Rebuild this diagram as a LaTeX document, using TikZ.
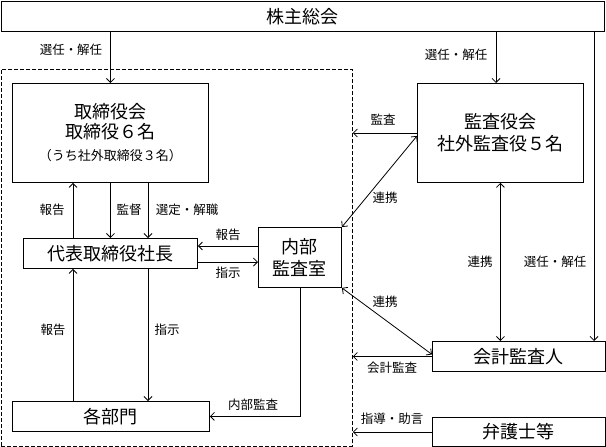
\documentclass[tikz,border=0pt]{standalone}
\usepackage{fontspec}
\setmainfont{Noto Sans CJK JP}
\usetikzlibrary{arrows.meta}
\begin{document}
\begin{tikzpicture}[x=1pt,y=-1pt,
  box/.style={draw,line width=0.9pt,inner sep=0pt,anchor=north west,align=center,font=\fontsize{18}{21}\selectfont},
  grpbox/.style={draw,line width=0.8pt,dash pattern=on 4pt off 2pt,inner sep=0pt,anchor=north west},
  lbl/.style={font=\fontsize{12.5}{14}\selectfont,inner sep=0pt},
  arr/.style={-{Straight Barb[length=4pt,width=8pt]},line width=0.8pt},
  darr/.style={{Straight Barb[length=4pt,width=8pt]}-{Straight Barb[length=4pt,width=8pt]},line width=0.8pt}]
\useasboundingbox (0,0) rectangle (606,447);
% boxes
\node[box,minimum width=603,minimum height=30] (gm) at (1,1) {株主総会};
\node[grpbox,minimum width=351,minimum height=377] (grp) at (1,69) {};
\node[box,minimum width=196,minimum height=99] (tor) at (12,83)
  {取締役会\\[-1pt]取締役６名\\[1pt]{\fontsize{13}{15}\selectfont （うち社外取締役３名）}};
\node[box,minimum width=166,minimum height=99] (kansa) at (417,83) {監査役会\\[1pt]社外監査役５名};
\node[box,minimum width=174,minimum height=30] (pres) at (23,238) {代表取締役社長};
\node[box,minimum width=83,minimum height=60] (naibu) at (258,227) {内部\\[1pt]監査室};
\node[box,minimum width=197,minimum height=30] (bumon) at (12,401) {各部門};
\node[box,minimum width=173,minimum height=30] (kaikei) at (432,341) {会計監査人};
\node[box,minimum width=173,minimum height=29] (bengo) at (432,417) {弁護士等};
% helper coordinates
\coordinate (xa) at (73,0);
\coordinate (xb) at (148,0);
\coordinate (xc) at (496,0);
\coordinate (xd) at (594,0);
\coordinate (ya) at (0,246);
\coordinate (yb) at (0,262);
% connectors
\draw[arr] (tor.north |- gm.south) -- (tor.north);
\draw[arr] (gm.south -| xc) -- (kansa.north -| xc);
\draw[arr] (gm.south -| xd) -- (kaikei.north -| xd);
\draw[arr] (pres.north -| xa) -- (tor.south -| xa);
\draw[arr] (tor.south) -- (pres.north);
\draw[arr] (tor.south -| xb) -- (pres.north -| xb);
\draw[arr] (naibu.west |- ya) -- (pres.east |- ya);
\draw[arr] (pres.east |- yb) -- (naibu.west |- yb);
\draw[arr] (bumon.north -| xa) -- (pres.south -| xa);
\draw[arr] (pres.south -| xb) -- (bumon.north -| xb);
\draw[arr] (naibu.south) |- (bumon.east);
\draw[arr] (kansa.west) -- (kansa.west -| grp.east);
\draw[darr] ([yshift=-3pt]kansa.west) -- (naibu.north east);
\draw[darr] (kansa.south) -- (kaikei.north -| kansa.south);
\draw[darr] (naibu.south east) -- ([yshift=2pt]kaikei.west);
\draw[arr] (kaikei.west) -- (kaikei.west -| grp.east);
\draw[arr] (bengo.west) -- (bengo.west -| grp.east);
% labels
\node[lbl] (l1) at (71,50) {選任・解任};
\node[lbl] (l2) at (456,55) {選任・解任};
\node[lbl] (l3) at (555,262) {選任・解任};
\node[lbl] (l4) at (52,210) {報告};
\node[lbl] (l5) at (129,210) {監督};
\node[lbl] (l6) at (187,210) {選定・解職};
\node[lbl] (l7) at (228,235) {報告};
\node[lbl] (l8) at (228,273) {指示};
\node[lbl] (l9) at (53,330) {報告};
\node[lbl] (l10) at (167,330) {指示};
\node[lbl] (l11) at (253,405) {内部監査};
\node[lbl] (l12) at (383,120) {監査};
\node[lbl] (l13) at (385,198) {連携};
\node[lbl] (l14) at (480,262) {連携};
\node[lbl] (l15) at (385,302) {連携};
\node[lbl] (l16) at (392,368) {会計監査};
\node[lbl] (l17) at (392,419) {指導・助言};
\end{tikzpicture}
\end{document}
